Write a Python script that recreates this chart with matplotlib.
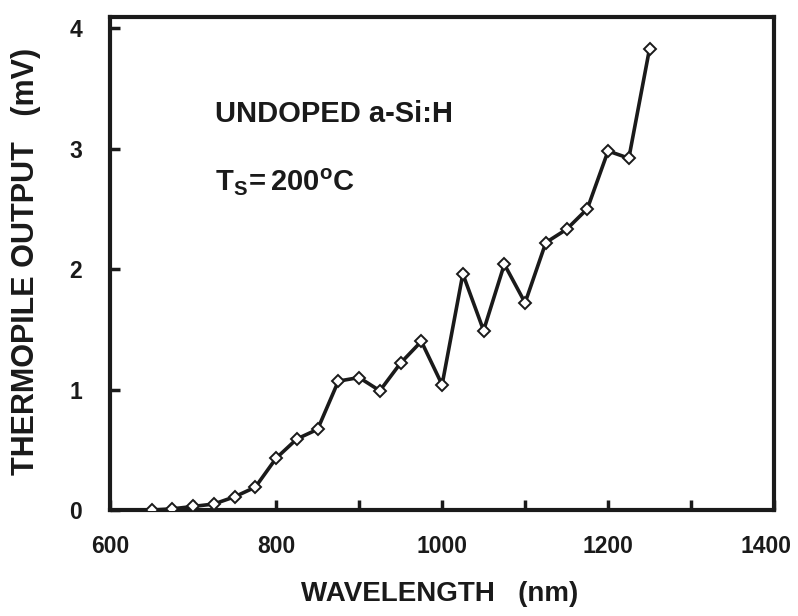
import matplotlib
matplotlib.use("Agg")
import matplotlib.pyplot as plt
import matplotlib.transforms as mtransforms
from matplotlib.ticker import MultipleLocator

# data
wavelength = [650, 675, 700, 725, 750, 775, 800, 825, 850, 875, 900, 925, 950,
              975, 1000, 1025, 1050, 1075, 1100, 1125, 1150, 1175, 1200, 1225, 1250]
output_mv = [0.0, 0.01, 0.03, 0.05, 0.11, 0.19, 0.43, 0.59, 0.67, 1.07, 1.10, 0.99, 1.22,
             1.40, 1.04, 1.96, 1.49, 2.04, 1.72, 2.22, 2.33, 2.50, 2.98, 2.92, 3.83]
x_ticks = [600, 800, 1000, 1200, 1400]
y_ticks = [0, 1, 2, 3, 4]

plt.rcParams['font.family'] = ['Liberation Sans', 'DejaVu Sans']
plt.rcParams['font.weight'] = 'bold'
plt.rcParams['mathtext.fontset'] = 'custom'
plt.rcParams['mathtext.rm'] = 'Liberation Sans:bold'
plt.rcParams['mathtext.it'] = 'Liberation Sans:bold'
plt.rcParams['mathtext.bf'] = 'Liberation Sans:bold'

fig = plt.figure(figsize=(7.98, 6.16), dpi=100)
ax = fig.add_axes([0.138, 0.172, 0.832, 0.800])

ax.plot(wavelength, output_mv, color="#1a1a1a", lw=2.6, solid_joinstyle="round",
        marker="D", markersize=6, markerfacecolor="white",
        markeredgecolor="#1a1a1a", markeredgewidth=1.4, zorder=3)

ax.set_xlim(600, 1400)
ax.set_ylim(0, 4.09)
ax.set_xticks(x_ticks)
ax.set_yticks(y_ticks)
ax.xaxis.set_minor_locator(MultipleLocator(100))
ax.tick_params(which="both", direction="in", length=7, width=2.5,
               top=False, right=False, labelsize=16.5, pad=18, colors="#1a1a1a")
ax.tick_params(axis="y", pad=20)
for lab in ax.get_xticklabels() + ax.get_yticklabels():
    lab.set_fontweight("bold")
# last x label sits close to the figure edge, nudge it left a little
last = ax.get_xticklabels()[-1]
last.set_transform(last.get_transform() +
                   mtransforms.ScaledTranslation(-6 / 72, 0, fig.dpi_scale_trans))

for s in ax.spines.values():
    s.set_linewidth(3)
    s.set_color("#1a1a1a")

ax.text(726, 3.29, "UNDOPED a-Si:H", fontsize=21, fontweight="bold",
        va="center", ha="left", color="#1a1a1a")
ax.text(726, 2.72, r"$\mathrm{T_S\!= 200^oC}$", fontsize=21,
        va="center", ha="left", color="#1a1a1a")

fig.text(0.551, 0.035, "WAVELENGTH   (nm)", fontsize=20, fontweight="bold",
         ha="center", va="center", color="#1a1a1a")
fig.text(0.032, 0.575, "THERMOPILE OUTPUT   (mV)", fontsize=22, fontweight="bold",
         ha="center", va="center", rotation=90, color="#1a1a1a")

fig.savefig("out.png", dpi=100)
